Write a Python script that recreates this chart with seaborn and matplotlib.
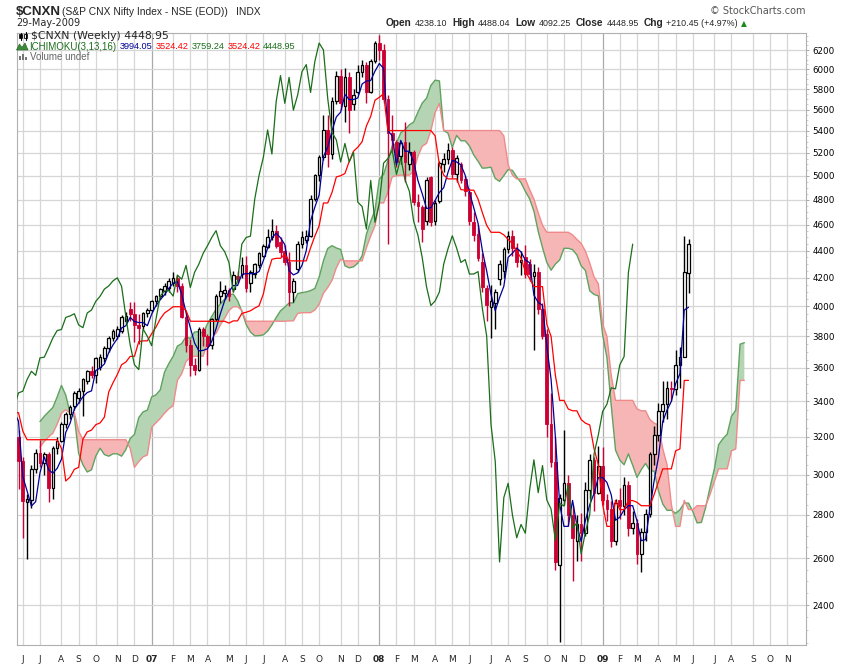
import numpy as np
import pandas as pd
import matplotlib
matplotlib.use("Agg")
import matplotlib.pyplot as plt
import seaborn as sns
from matplotlib.patches import Polygon, Rectangle
from matplotlib.lines import Line2D
from matplotlib.ticker import FixedLocator, NullFormatter

# ---------------- data (weekly bars, Friday dates) ----------------
START_FRIDAY = "2005-12-23"     # first bar used for the indicator warm-up
FIRST_VISIBLE = 23              # bar dated 2006-06-02 is the first one drawn

opens = [
    2800, 2820, 2837, 2910, 2875, 2900, 2990, 2960, 2985, 3010, 3070, 3140,
    3120, 3260, 3340, 3400, 3510, 3380, 3540, 3560, 3690, 3650, 3246,
    3200, 3071, 2862, 2875, 3030, 3115, 3060, 3110, 2930, 3140,
    3180, 3270, 3330, 3372, 3420, 3460, 3519, 3580, 3560, 3605,
    3663, 3726, 3790, 3800, 3835, 3901, 3985, 3947, 3875, 3870,
    3955, 3978, 4037, 4071, 4107, 4131, 4160, 4200, 4140, 3930,
    3745, 3620, 3590, 3848, 3800, 3745, 3913, 4071, 4090, 4110,
    4121, 4215, 4230, 4290, 4166, 4227, 4290, 4360, 4425, 4500,
    4553, 4462, 4399, 4312, 4100, 4263, 4450, 4480, 4513, 4805,
    5003, 5160, 5408, 5190, 5680, 5935, 5630, 5917, 5650, 5770,
    5975, 6047, 5766, 6080, 6274, 6200, 5705, 5383, 5300, 5175,
    5295, 5105, 5205, 4780, 4740, 4632, 4988, 4632, 4790, 5100,
    5150, 5222, 5012, 5100, 4975, 4862, 4618, 4526, 4312, 4131,
    3993, 4025, 4190, 4250, 4412, 4513, 4412, 4312, 4350, 4300,
    4215, 4245, 3985, 3816, 3270, 3068, 2570, 2873, 2956, 2800,
    2680, 2755, 2714, 2921, 3077, 2909, 3047, 2873, 2828, 2680,
    2874, 2843, 2948, 2737, 2763, 2620, 2720, 2803, 3108, 3211,
    3342, 3384, 3480, 3474, 3620, 3671, 4238.10,
]
highs = [
    2850, 2845, 2920, 2935, 2925, 3010, 3020, 3000, 3030, 3080, 3150, 3160,
    3270, 3350, 3420, 3530, 3560, 3570, 3600, 3700, 3774, 3680, 3290,
    3240, 3090, 2900, 3050, 3135, 3185, 3120, 3120, 3150, 3200,
    3280, 3340, 3380, 3460, 3480, 3540, 3590, 3610, 3670, 3690,
    3740, 3800, 3850, 3870, 3940, 3960, 4030, 4032, 3950, 3965,
    3990, 4045, 4080, 4130, 4160, 4200, 4245, 4220, 4160, 3960,
    3780, 3660, 3860, 3860, 3815, 3920, 4085, 4180, 4150, 4130,
    4250, 4250, 4350, 4360, 4260, 4310, 4390, 4450, 4565, 4645,
    4600, 4500, 4440, 4393, 4200, 4470, 4550, 4560, 4840, 5020,
    5180, 5545, 5545, 5720, 5980, 6000, 6010, 5975, 5800, 6042,
    6100, 6070, 6110, 6300, 6357, 6260, 5740, 5545, 5320, 5300,
    5480, 5300, 5230, 4850, 4760, 4990, 5000, 4800, 5130, 5200,
    5290, 5250, 5180, 5120, 5000, 4900, 4700, 4600, 4380, 4150,
    4150, 4120, 4330, 4430, 4550, 4560, 4460, 4400, 4440, 4340,
    4300, 4280, 4020, 3850, 3450, 3200, 2900, 3240, 3000, 2850,
    2800, 2810, 2960, 3110, 3090, 3150, 3147, 2900, 2870, 2880,
    2930, 2990, 2970, 2820, 2780, 2740, 2830, 3120, 3260, 3390,
    3520, 3520, 3520, 3710, 3730, 4509.4, 4488.04,
]
lows = [
    2760, 2790, 2830, 2860, 2840, 2890, 2930, 2935, 2970, 3000, 3050, 3080,
    3110, 3240, 3300, 3390, 3330, 3370, 3460, 3540, 3640, 3200, 2896,
    2925, 2690, 2595, 2835, 3010, 3040, 3000, 2865, 2880, 3110,
    3170, 3250, 3300, 3350, 3390, 3314, 3500, 3540, 3510, 3590,
    3640, 3700, 3770, 3780, 3820, 3880, 3900, 3763, 3750, 3850,
    3930, 3960, 4000, 4050, 4080, 4100, 4140, 4100, 3920, 3700,
    3554, 3560, 3580, 3740, 3617, 3720, 3900, 4025, 4050, 4040,
    4100, 4160, 4200, 4100, 4100, 4200, 4270, 4350, 4420, 4480,
    4420, 4350, 4290, 4002, 4030, 4240, 4420, 4460, 4500, 4790,
    4960, 5140, 5080, 5150, 5650, 5600, 5480, 5383, 5600, 5750,
    5920, 5660, 5760, 6060, 6100, 5660, 4448, 5220, 5080, 5100,
    4950, 5050, 4760, 4620, 4468, 4600, 4590, 4600, 4770, 5030,
    5100, 4980, 4950, 4940, 4830, 4600, 4470, 4320, 4100, 3900,
    3790, 3850, 4150, 4200, 4380, 4360, 4280, 4220, 4200, 4180,
    3715, 3950, 3780, 3200, 3040, 2550, 2252, 2850, 2750, 2502,
    2590, 2590, 2700, 2880, 2820, 2900, 2850, 2770, 2650, 2660,
    2780, 2800, 2700, 2710, 2573, 2539.45, 2680, 2790, 3050, 3180,
    3280, 3300, 3400, 3440, 3478.7, 3671, 4092.25,
]
closes = [
    2820, 2837, 2910, 2875, 2900, 2990, 2960, 2985, 3010, 3070, 3140, 3120,
    3260, 3340, 3400, 3510, 3380, 3540, 3560, 3690, 3650, 3246, 3250,
    3071, 2866, 2880, 3030, 3115, 3060, 3110, 2930, 3140, 3180,
    3270, 3330, 3370, 3450, 3460, 3530, 3580, 3555, 3663, 3667,
    3726, 3790, 3838, 3845, 3925, 3935, 3950, 3875, 3857, 3955,
    3975, 4035, 4070, 4120, 4142, 4178, 4200, 4140, 3930, 3745,
    3620, 3590, 3848, 3800, 3740, 3913, 4071, 4107, 4110, 4071,
    4220, 4190, 4290, 4131, 4240, 4300, 4380, 4437, 4500, 4553,
    4437, 4392, 4312, 4100, 4178, 4450, 4500, 4510, 4805, 5003,
    5160, 5408, 5190, 5680, 5935, 5660, 5917, 5594, 5742, 5975,
    6047, 5766, 6080, 6274, 6200, 5705, 5383, 5317, 5120, 5285,
    5120, 5205, 4780, 4745, 4565, 4961, 4618, 4770, 5110, 5150,
    5222, 5012, 5157, 4965, 4870, 4627, 4517, 4347, 4136, 4006,
    4037, 4100, 4300, 4414, 4513, 4420, 4312, 4333, 4227, 4228,
    4245, 3985, 3803, 3270, 3068, 2584, 2885, 2956, 2800, 2693,
    2755, 2714, 2921, 3077, 2909, 3047, 2873, 2828, 2680, 2856,
    2843, 2948, 2737, 2763, 2620, 2720, 2803, 3108, 3211, 3342,
    3384, 3480, 3474, 3620, 3671, 4238.50, 4448.95,
]

price_ticks = [2400, 2600, 2800, 3000, 3200, 3400, 3600, 3800, 4000, 4200,
               4400, 4600, 4800, 5000, 5200, 5400, 5600, 5800, 6000, 6200]
month_letters = ["J", "F", "M", "A", "M", "J", "J", "A", "S", "O", "N", "D"]
TENKAN_N, KIJUN_N, SENKOU_N = 3, 13, 16

header_items = [("Open", "4238.10"), ("High", "4488.04"), ("Low", "4092.25"),
                ("Close", "4448.95"), ("Chg", "+210.45 (+4.97%)")]
legend_values = ["3994.05", "3524.42", "3759.24", "3524.42", "4448.95"]

# ---------------- colours ----------------
CANDLE_RED = "#cc0033"
TENKAN_C = "#000099"
KIJUN_C = "#ff0000"
CHIKOU_C = "#1a6e1a"
CLOUD_G = "#b4d4b4"
CLOUD_G_EDGE = "#5fa35f"
CLOUD_R = "#f6b6b6"
CLOUD_R_EDGE = "#f08a8a"
GRID_C = "#d6d6d6"
YEAR_GRID_C = "#aaaaaa"

# ---------------- indicator computation ----------------
n = len(closes)
df = pd.DataFrame({"open": opens, "high": highs, "low": lows, "close": closes})
df["pos"] = np.arange(n) - FIRST_VISIBLE
hi, lo = df["high"], df["low"]
df["tenkan"] = (hi.rolling(TENKAN_N).max() + lo.rolling(TENKAN_N).min()) / 2
df["kijun"] = (hi.rolling(KIJUN_N).max() + lo.rolling(KIJUN_N).min()) / 2
df["spanA"] = (df["tenkan"] + df["kijun"]) / 2
df["spanB"] = (hi.rolling(SENKOU_N).max() + lo.rolling(SENKOU_N).min()) / 2

cloud = pd.DataFrame({"pos": df["pos"] + KIJUN_N, "A": df["spanA"], "B": df["spanB"]}).dropna()
chikou = pd.DataFrame({"pos": df["pos"] - KIJUN_N, "val": df["close"]})
chikou = chikou[chikou["pos"] >= -1]
vis = df[df["pos"] >= 0].copy()

# ---------------- figure ----------------
sns.set_style("white")
plt.rcParams["font.family"] = ["DejaVu Sans"]
W, H = 850, 668
fig = plt.figure(figsize=(W / 100, H / 100), dpi=100)
L_PX, R_PX, T_PX, B_PX = 17, 806, 33, 645
ax = fig.add_axes([L_PX / W, 1 - B_PX / H, (R_PX - L_PX) / W, (B_PX - T_PX) / H])

XMIN, XMAX = -0.35, 183.35
ax.set_yscale("log")
ax.set_xlim(XMIN, XMAX)
ax.set_ylim(2242, 6383)

# month grid / labels
fridays = pd.date_range(START_FRIDAY, periods=n + 60, freq="7D")
mondays = fridays - pd.Timedelta(days=4)
all_pos = np.arange(len(fridays)) - FIRST_VISIBLE
mpos, mlab, ypos = [], [], []
for k in range(1, len(fridays)):
    if mondays[k].month != mondays[k - 1].month and XMIN < all_pos[k] < XMAX:
        mpos.append(all_pos[k])
        if mondays[k].month == 1:
            mlab.append(mondays[k].strftime("%y"))
            ypos.append(all_pos[k])
        else:
            mlab.append(month_letters[mondays[k].month - 1])

for p in mpos:
    ax.axvline(p, color=YEAR_GRID_C if p in ypos else GRID_C, lw=0.9, zorder=0)
for t in price_ticks:
    ax.axhline(t, color=GRID_C, lw=0.9, zorder=0)

# cloud
xa, A, B = cloud["pos"].values, cloud["A"].values, cloud["B"].values
ax.fill_between(xa, A, B, where=A >= B, interpolate=True, facecolor=CLOUD_G,
                edgecolor="none", zorder=1)
ax.fill_between(xa, A, B, where=A < B, interpolate=True, facecolor=CLOUD_R,
                edgecolor="none", zorder=1)
sns.lineplot(x=xa, y=A, ax=ax, color=CLOUD_G_EDGE, lw=1.0, zorder=1.5, estimator=None)
sns.lineplot(x=xa, y=B, ax=ax, color=CLOUD_R_EDGE, lw=1.0, zorder=1.5, estimator=None)

# candles
up = vis["close"] >= vis["open"]
dn = ~up
ax.vlines(vis.loc[up, "pos"], vis.loc[up, "low"], vis.loc[up, "high"], color="black", lw=1.0, zorder=3)
ax.vlines(vis.loc[dn, "pos"], vis.loc[dn, "low"], vis.loc[dn, "high"], color=CANDLE_RED, lw=1.0, zorder=3)
bw = 0.62
ax.bar(vis.loc[up, "pos"], (vis.loc[up, "close"] - vis.loc[up, "open"]).clip(lower=4),
       bottom=vis.loc[up, "open"], width=bw, facecolor="white", edgecolor="black", lw=0.9, zorder=4)
ax.bar(vis.loc[dn, "pos"], (vis.loc[dn, "open"] - vis.loc[dn, "close"]).clip(lower=4),
       bottom=vis.loc[dn, "close"], width=bw, facecolor=CANDLE_RED, edgecolor=CANDLE_RED, lw=0.6, zorder=4)

# ichimoku lines
line_df = df[df["pos"] >= -1]
sns.lineplot(x=line_df["pos"].values, y=line_df["tenkan"].values, ax=ax, color=TENKAN_C, lw=0.9, zorder=5, estimator=None)
sns.lineplot(x=line_df["pos"].values, y=line_df["kijun"].values, ax=ax, color=KIJUN_C, lw=0.9, zorder=5, estimator=None)
sns.lineplot(x=chikou["pos"].values, y=chikou["val"].values, ax=ax, color=CHIKOU_C, lw=0.9, zorder=5, estimator=None)

# axes styling
for s in ax.spines.values():
    s.set_color("#b0b0b0")
    s.set_linewidth(0.8)
ax.yaxis.tick_right()
ax.yaxis.set_major_locator(FixedLocator(price_ticks))
ax.set_yticklabels([str(t) for t in price_ticks])
ax.yaxis.set_minor_locator(FixedLocator([v for v in range(2250, 6400, 50) if v % 200 != 0]))
ax.yaxis.set_minor_formatter(NullFormatter())
ax.tick_params(axis="y", which="major", length=2.5, width=0.6, color="#999999",
               labelsize=6.3, pad=2, labelcolor="black")
ax.tick_params(axis="y", which="minor", length=1.5, width=0.5, color="#bbbbbb")

ax.set_xticks(mpos)
ax.set_xticklabels(mlab)
for lab, p in zip(ax.get_xticklabels(), mpos):
    if p in ypos:
        lab.set_fontweight("bold")
        lab.set_fontsize(7)
ax.xaxis.set_minor_locator(FixedLocator(np.arange(0, 184)))
ax.tick_params(axis="x", which="major", length=0, labelsize=6.5, pad=7)
ax.tick_params(axis="x", which="minor", length=2, width=0.5, color="#bbbbbb")
ax.set_xlabel("")
ax.set_ylabel("")


# ---------------- header / legend text ----------------
def fx(x):
    return x / W


def fy(y):
    return 1 - y / H


renderer = fig.canvas.get_renderer()


def width_px(t):
    return t.get_window_extent(renderer).width


fig.text(fx(16), fy(15), "$CNXN", fontsize=9.5, fontweight="bold",
         family=["Liberation Sans"], va="baseline")
fig.text(fx(62), fy(15), "(S&P CNX Nifty Index - NSE (EOD))", fontsize=7.4,
         family=["Liberation Sans"], va="baseline")
fig.text(fx(236), fy(15), "INDX", fontsize=7.4, family=["Liberation Sans"], va="baseline")
fig.text(fx(16), fy(23.5), "29-May-2009", fontsize=7, va="center")
fig.text(fx(805), fy(11), "\u00a9 StockCharts.com", fontsize=7, va="center", ha="right", color="#555555")

xcur = 386
for lab, val in header_items:
    t1 = fig.text(fx(xcur), fy(23.5), lab, fontsize=7.3, fontweight="bold",
                  family=["Liberation Sans"], va="center")
    xcur += width_px(t1) + 3
    t2 = fig.text(fx(xcur), fy(23.5), val, fontsize=6.4,
                  family=["Liberation Sans"], va="center")
    xcur += width_px(t2) + 5
fig.text(fx(xcur - 2), fy(23.5), "\u25b2", fontsize=5.5, color="#1a8a1a", va="center")

fig.text(fx(31.5), fy(36), "$CNXN (Weekly) 4448.95", fontsize=7.8, va="center")
t = fig.text(fx(29.3), fy(46.5), "ICHIMOKU(3,13,16)", fontsize=7, family=["Liberation Sans"],
             color=CHIKOU_C, va="center")
xcur = 29.3 + width_px(t) + 3.5
for val, c in zip(legend_values, [TENKAN_C, KIJUN_C, CHIKOU_C, KIJUN_C, CHIKOU_C]):
    t = fig.text(fx(xcur), fy(46.5), val, fontsize=6.6, family=["Liberation Sans"], color=c, va="center")
    xcur += width_px(t) + 3
fig.text(fx(30), fy(57), "Volume undef", fontsize=7, family=["Liberation Sans"],
         color="#666666", va="center")


def pts(seq):
    return [(fx(a), fy(b)) for a, b in seq]


# icons
fig.add_artist(Line2D([fx(20.5), fx(20.5)], [fy(32.5), fy(39.5)], color="black", lw=0.8))
fig.add_artist(Rectangle((fx(19.3), fy(38)), 2.6 / W, 3.5 / H, facecolor="black", edgecolor="black", lw=0.5))
fig.add_artist(Line2D([fx(25.5), fx(25.5)], [fy(32), fy(39.5)], color="black", lw=0.8))
fig.add_artist(Rectangle((fx(24.3), fy(37.5)), 2.6 / W, 3.5 / H, facecolor="white", edgecolor="black", lw=0.6))
fig.add_artist(Polygon(pts([(16.5, 50), (19.5, 44), (22, 47.5), (25, 43), (28, 50)]),
                       closed=True, facecolor="#3c8c3c", edgecolor="#2a6a2a", lw=0.5))
for x0, h in [(18.5, 4), (21.5, 6), (24.5, 3)]:
    fig.add_artist(Rectangle((fx(x0), fy(60)), 2.2 / W, h / H, facecolor="#777777", edgecolor="none"))

fig.savefig("out.png", dpi=100)
